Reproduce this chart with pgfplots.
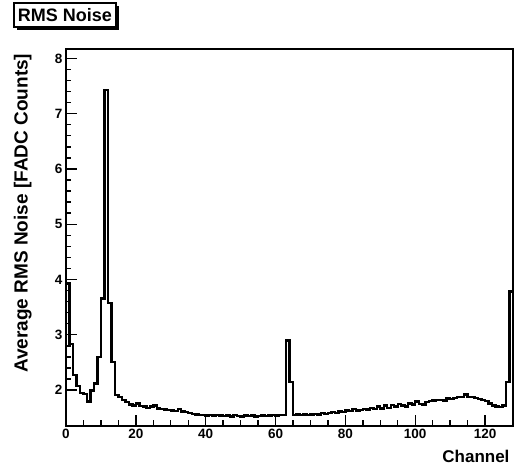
\documentclass[border=0pt]{standalone}
\usepackage{pgfplots}
\pgfplotsset{compat=1.18}
\usepackage{fontspec}
\setmainfont{Liberation Sans}
\begin{document}
\begin{tikzpicture}
\path (-66pt,-46pt) rectangle (449pt,426pt);
\begin{axis}[
  scale only axis,
  width=447pt, height=377pt,
  xmin=0, xmax=128, ymin=1.35, ymax=8.17,
  xtick={0,20,...,120}, ytick={2,3,...,8},
  minor x tick num=3, minor y tick num=4,
  tick align=inside, tick pos=left,
  major tick length=11pt, minor tick length=5.5pt,
  every tick/.style={black, line width=1.4pt},
  axis line style={line width=2pt},
  /pgf/number format/assume math mode=true,
  ticklabel style={font=\fontsize{13.5}{15}\selectfont\bfseries},
  xlabel={Channel}, ylabel={Average RMS Noise [FADC Counts]},
  xlabel style={font=\fontsize{17}{19}\selectfont\bfseries, at={(axis description cs:1,-0.08)}, anchor=east},
  ylabel style={font=\fontsize{19}{21}\selectfont\bfseries, at={(axis description cs:-0.097,0.997)}, anchor=east},
  clip=true,
]
\addplot[const plot, black, line width=2.4pt] coordinates {
(0,3.93) (1,2.83) (2,2.27) (3,2.07) (4,1.95) (5,1.93) (6,1.79) (7,1.99) (8,2.12) (9,2.60)
(10,3.66) (11,7.43) (12,3.57) (13,2.51) (14,1.91) (15,1.87) (16,1.82) (17,1.78) (18,1.74) (19,1.72)
(20,1.76) (21,1.71) (22,1.70) (23,1.68) (24,1.70) (25,1.72) (26,1.67) (27,1.66) (28,1.65) (29,1.64)
(30,1.63) (31,1.62) (32,1.66) (33,1.61) (34,1.60) (35,1.58) (36,1.57) (37,1.56) (38,1.55) (39,1.55)
(40,1.54) (41,1.55) (42,1.54) (43,1.55) (44,1.54) (45,1.53) (46,1.54) (47,1.52) (48,1.55) (49,1.53)
(50,1.52) (51,1.54) (52,1.53) (53,1.54) (54,1.52) (55,1.53) (56,1.54) (57,1.53) (58,1.54) (59,1.55)
(60,1.54) (61,1.55) (62,1.55) (63,2.90) (64,2.15) (65,1.55) (66,1.56) (67,1.55) (68,1.56) (69,1.55)
(70,1.56) (71,1.57) (72,1.56) (73,1.58) (74,1.57) (75,1.59) (76,1.60) (77,1.58) (78,1.61) (79,1.60)
(80,1.63) (81,1.62) (82,1.66) (83,1.63) (84,1.64) (85,1.66) (86,1.65) (87,1.68) (88,1.66) (89,1.70)
(90,1.67) (91,1.72) (92,1.68) (93,1.73) (94,1.70) (95,1.75) (96,1.72) (97,1.70) (98,1.76) (99,1.74)
(100,1.79) (101,1.75) (102,1.74) (103,1.78) (104,1.80) (105,1.81) (106,1.82) (107,1.82) (108,1.81) (109,1.85)
(110,1.84) (111,1.86) (112,1.88) (113,1.87) (114,1.92) (115,1.88) (116,1.87) (117,1.86) (118,1.84) (119,1.82)
(120,1.80) (121,1.76) (122,1.72) (123,1.70) (124,1.69) (125,1.72) (126,2.15) (127,3.78) (128,3.78)
};
\end{axis}
\fill[black] (-49pt,396pt) rectangle (53pt,420pt);
\draw[fill=white, line width=1.2pt] (-52pt,399pt) rectangle (50pt,423pt);
\node[font=\fontsize{18}{20}\selectfont\bfseries] at (-1pt,411pt) {RMS Noise};
\end{tikzpicture}
\end{document}
